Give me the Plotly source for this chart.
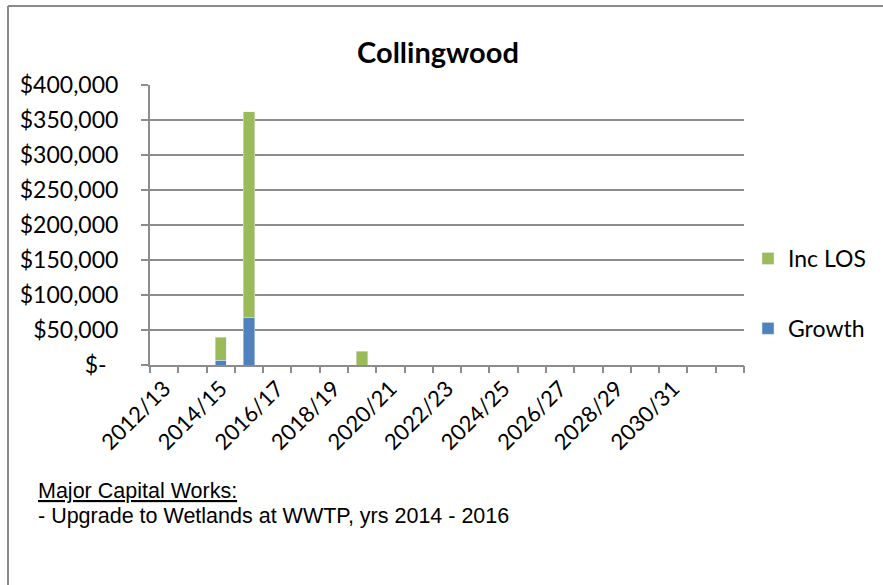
import plotly.graph_objects as go

# Financial years shown on the category axis
years = [f"{y}/{(y + 1) % 100:02d}" for y in range(2012, 2033)]
# Capital spend per year (dollars)
growth = [0, 0, 7000, 68000, 0, 0, 0, 0, 0, 0, 0, 0, 0, 0, 0, 0, 0, 0, 0, 0, 0]
inc_los = [0, 0, 33000, 294000, 0, 0, 0, 20000, 0, 0, 0, 0, 0, 0, 0, 0, 0, 0, 0, 0, 0]
y_ticks = [0, 50000, 100000, 150000, 200000, 250000, 300000, 350000, 400000]
label_every = 2
shown_labels = 10

GREEN = "#9BBB59"
BLUE = "#4F81BD"
GRID = "#8C8C8C"
FONT = "Lato"

idx = list(range(len(years)))

fig = go.Figure()
fig.add_trace(go.Bar(x=idx, y=growth, name="Growth", marker_color=BLUE,
                     width=0.4, legendgroup="g", legendrank=2))
fig.add_trace(go.Bar(x=idx, y=inc_los, name="Inc LOS", marker_color=GREEN,
                     width=0.4, legendgroup="l", legendrank=1))

# invisible trace carrying the boundary tick marks on the overlay axis
fig.add_trace(go.Scatter(x=[-0.5], y=[0], xaxis="x2", mode="markers",
                         marker=dict(opacity=0), showlegend=False, hoverinfo="skip"))

label_pos = idx[::label_every][:shown_labels]
fig.update_layout(
    width=883, height=585,
    margin=dict(l=150, r=139, t=85, b=220, autoexpand=False),
    paper_bgcolor="white", plot_bgcolor="white",
    barmode="stack",
    font=dict(family=FONT, color="black", size=22),
    title=dict(text="<b>Collingwood</b>", x=438 / 883, xanchor="center",
               y=1 - 53 / 585, yanchor="middle", font=dict(size=29, family=FONT)),
    xaxis=dict(range=[-0.5, len(years) - 0.5], tickvals=label_pos,
               ticktext=[years[i] for i in label_pos], tickangle=-45,
               ticks="", showgrid=False, showline=True, linecolor=GRID,
               linewidth=2, tickfont=dict(size=22), zeroline=False),
    xaxis2=dict(overlaying="x", range=[-0.5, len(years) - 0.5],
                tickvals=[i - 0.5 for i in range(len(years) + 1)],
                showticklabels=False, ticks="outside", ticklen=7, tickwidth=2,
                tickcolor=GRID, showgrid=False, zeroline=False, side="bottom"),
    yaxis=dict(range=[0, 400000], tickvals=y_ticks,
               ticktext=[f"${v:,.0f}" if v else "$-\u00a0\u00a0" for v in y_ticks],
               showgrid=True, gridcolor=GRID, gridwidth=2, showline=True,
               linecolor=GRID, linewidth=2, ticks="outside", ticklen=7,
               tickwidth=2, tickcolor=GRID, zeroline=False,
               ticklabelstandoff=18, tickfont=dict(size=23)),
    legend=dict(x=(748 - 150) / 594, y=(365 - 237) / 280, xanchor="left",
                yanchor="top", traceorder="grouped", tracegroupgap=37,
                font=dict(size=23), bgcolor="rgba(0,0,0,0)", itemwidth=30),
    showlegend=True,
)

# chart frame
frame = dict(color="#8A8A8A", width=2)
fig.add_shape(type="line", xref="paper", yref="paper",
              x0=(8 - 150) / 594, x1=(890 - 150) / 594,
              y0=(365 - 6) / 280, y1=(365 - 6) / 280, line=frame)
fig.add_shape(type="line", xref="paper", yref="paper",
              x0=(8 - 150) / 594, x1=(8 - 150) / 594,
              y0=(365 - 6) / 280, y1=(365 - 600) / 280, line=frame)

# notes below the chart
notes = [
    ("<u>Major Capital Works:</u>", 491),
    ("- Upgrade to Wetlands at WWTP, yrs 2014 - 2016", 516),
]
for text, py in notes:
    fig.add_annotation(text=text, xref="paper", yref="paper",
                       x=(36 - 150) / 594, y=(365 - py) / 280,
                       xanchor="left", yanchor="middle", showarrow=False,
                       font=dict(family="Liberation Sans", size=21.5, color="black"))

fig.write_html("out.html")
